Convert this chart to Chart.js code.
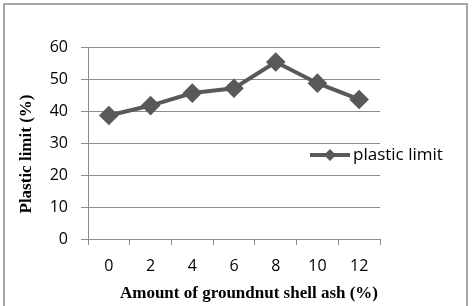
<!DOCTYPE html>
<html lang="en">
<head>
    <meta charset="UTF-8">
    <title>Plastic limit vs groundnut shell ash</title>
    <script src="https://cdn.jsdelivr.net/npm/chart.js"></script>
    <style>
        html, body { margin: 0; padding: 0; background: #fff; }
        #frame {
            position: absolute; left: 3px; top: 3px;
            width: 461px; height: 310px;
            border: 2px solid #a6a6a6; border-bottom: none;
        }
        #wrap { position: absolute; left: 0; top: 0; width: 472px; height: 306px; }
    </style>
</head>
<body>
    <div id="frame"></div>
    <div id="wrap"><canvas id="plChart" width="472" height="306"></canvas></div>

    <script>
        // ash content (%) and plastic limit (%)
        const ashLabels = ['0', '2', '4', '6', '8', '10', '12'];
        const plasticLimit = [38.6, 41.7, 45.6, 47.1, 55.3, 48.7, 43.6];
        const seriesName = 'plastic limit';
        const xTitle = 'Amount of groundnut shell ash (%)';
        const yTitle = 'Plastic limit (%)';

        const lineGrey = '#595959';
        const gridGrey = '#8c8c8c';
        const tickFont = { family: 'Open Sans', size: 16 };
        const titleFont = 'bold 17px "Liberation Serif"';

        // excel style legend (line + diamond) and axis titles
        const decor = {
            id: 'decor',
            afterDraw(chart) {
                const c = chart.ctx;
                const ds = chart.data.datasets[0];
                c.save();
                // legend
                const ly = 155, lx = 310;
                c.strokeStyle = ds.borderColor;
                c.lineWidth = ds.borderWidth;
                c.beginPath(); c.moveTo(lx, ly); c.lineTo(lx + 40, ly); c.stroke();
                c.fillStyle = ds.borderColor;
                c.beginPath();
                c.moveTo(lx + 20, ly - 6); c.lineTo(lx + 26, ly);
                c.lineTo(lx + 20, ly + 6); c.lineTo(lx + 14, ly);
                c.closePath(); c.fill();
                c.fillStyle = '#000';
                c.font = '17px "Open Sans"';
                c.textBaseline = 'middle';
                c.fillText(ds.label, lx + 43, ly);
                // axis titles
                c.font = titleFont;
                c.textAlign = 'center';
                c.fillText(xTitle, 249, 294);
                c.translate(27, 154);
                c.rotate(-Math.PI / 2);
                c.fillText(yTitle, 0, 0);
                c.restore();
            }
        };

        new Chart(document.getElementById('plChart'), {
            type: 'line',
            data: {
                labels: ashLabels,
                datasets: [{
                    label: seriesName,
                    data: plasticLimit,
                    borderColor: lineGrey,
                    backgroundColor: lineGrey,
                    borderWidth: 4,
                    pointStyle: 'rectRot',
                    pointRadius: 7,
                    pointHoverRadius: 7,
                    tension: 0
                }]
            },
            options: {
                responsive: false,
                animation: false,
                layout: { padding: { left: 0, right: 92, top: 47, bottom: 0 } },
                plugins: { legend: { display: false }, tooltip: { enabled: false } },
                scales: {
                    x: {
                        offset: true,
                        grid: { offset: true, drawOnChartArea: false, color: gridGrey, tickLength: 6 },
                        border: { color: gridGrey },
                        ticks: { color: '#000', font: tickFont, padding: 12 },
                        afterFit(s) { s.height = 67; }
                    },
                    y: {
                        min: 0, max: 60,
                        ticks: { stepSize: 10, color: '#000', font: tickFont, padding: 13 },
                        grid: { color: gridGrey, tickLength: 7 },
                        border: { color: gridGrey },
                        afterFit(s) { s.width = 88; }
                    }
                }
            },
            plugins: [decor]
        });
    </script>
</body>
</html>
